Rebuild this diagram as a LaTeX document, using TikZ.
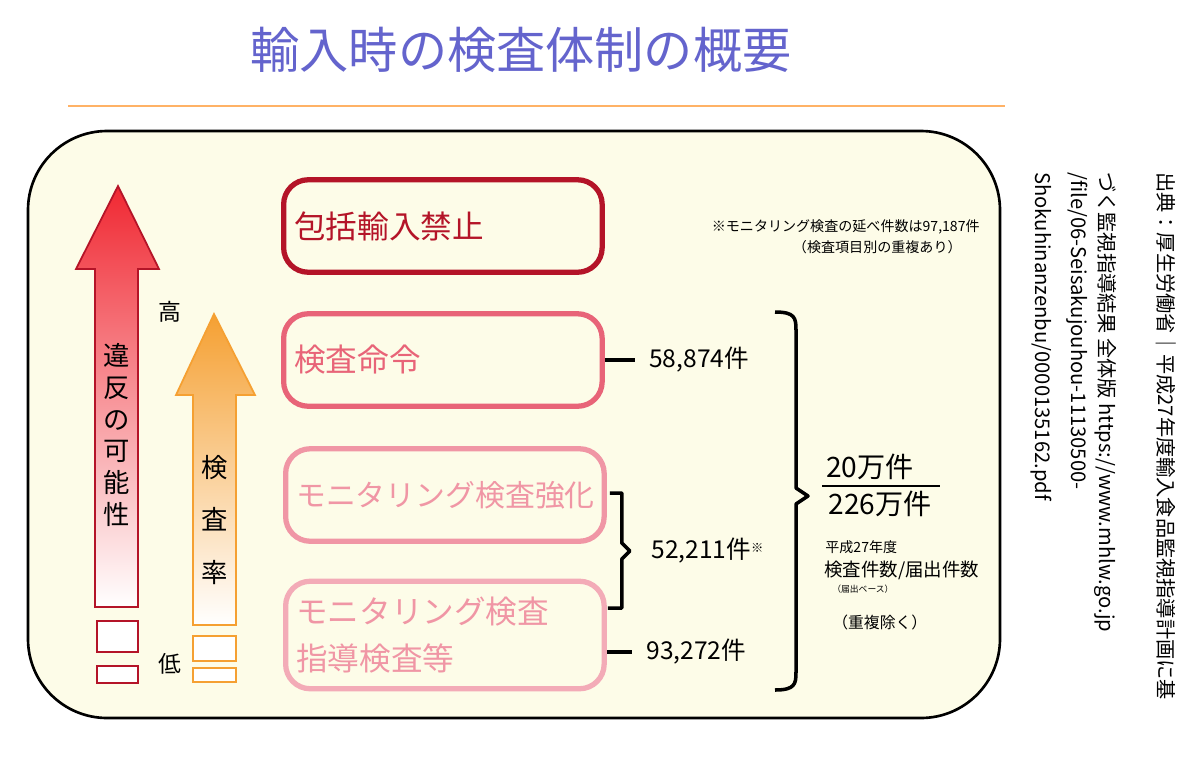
\documentclass[tikz,border=0pt]{standalone}
\usepackage{fontspec}
\setmainfont{Noto Sans CJK JP}
\definecolor{bgcream}{RGB}{253,252,232}
\definecolor{darkred}{RGB}{180,20,40}
\definecolor{midpink}{RGB}{232,100,120}
\definecolor{lightpink}{RGB}{240,150,165}
\definecolor{titleblue}{RGB}{100,100,205}
\definecolor{arrowred}{RGB}{240,40,50}
\definecolor{arroworange}{RGB}{245,160,50}
\begin{document}
\begin{tikzpicture}[x=0.02cm,y=-0.02cm,inner sep=0pt]
\tikzstyle{level}=[rounded corners=14pt, line width=3pt, anchor=west, text width=5.95cm, minimum height=1.85cm, inner sep=6pt, align=left, font=\fontsize{18}{21}\selectfont]
\tikzstyle{count}=[anchor=west, font=\fontsize{14}{16}\selectfont]
\tikzstyle{note}=[font=\fontsize{8}{10}\selectfont]
\tikzstyle{side}=[rotate=-90, anchor=north west, font=\fontsize{11.5}{14}\selectfont]
\tikzstyle{brace}=[line width=2pt, black, line join=round]
\useasboundingbox (0,0) rectangle (1200,758);
\fill[white] (0,0) rectangle (1200,758);
% title and rule
\node[font=\fontsize{28}{32}\selectfont, text=titleblue] (title) at (521,50) {輸入時の検査体制の概要};
\draw[orange!60, line width=1.5pt] (68,106) -- (1005,106);
% panel
\draw[fill=bgcream, draw=black, line width=1.5pt, rounded corners=45pt] (28,131) rectangle (1000,718);
% arrows
\shade[top color=arrowred, bottom color=white, draw=darkred, line width=1pt]
  (118,186) -- (159,269) -- (138,269) -- (138,607) -- (95,607) -- (95,269) -- (76,269) -- cycle;
\draw[darkred, fill=white, line width=1pt] (97,621) rectangle (138,652);
\draw[darkred, fill=white, line width=1pt] (97,666) rectangle (138,683);
\shade[top color=arroworange, bottom color=white, draw=arroworange, line width=1pt]
  (214,314) -- (255,395) -- (236,395) -- (236,625) -- (193,625) -- (193,395) -- (176,395) -- cycle;
\draw[arroworange, fill=white, line width=1pt] (193,636) rectangle (236,661);
\draw[arroworange, fill=white, line width=1pt] (193,668) rectangle (236,682);
\node[font=\fontsize{15}{18}\selectfont, align=center] (viol) at (117,435) {違\\反\\の\\可\\能\\性};
\node[font=\fontsize{15}{30}\selectfont, align=center] (rate) at (215,520) {検\\査\\率};
\node[font=\fontsize{13}{15}\selectfont] (high) at (170,312) {高};
\node[font=\fontsize{13}{15}\selectfont] (low) at (170,664) {低};
% levels
\node[level, draw=darkred, text=darkred] (ban) at (281,226) {包括輸入禁止};
\node[level, draw=midpink, text=midpink] (order) at (281,360) {検査命令};
\node[level, draw=lightpink, text=lightpink, font=\fontsize{17}{20}\selectfont] (monstr) at (283,495) {モニタリング検査強化};
\node[level, draw=lightpink!80, text=lightpink, minimum height=2.15cm, font=\fontsize{18}{27}\selectfont] (mon) at (283,635) {モニタリング検査\\指導検査等};
% counts
\draw[line width=2pt] (order.east) -- +(30,0) coordinate (c1);
\node[count] (n1) at ([xshift=8]c1) {58,874件};
\draw[brace] (monstr.east) ++(3,-2) -- ++(12,0) -- ++(0,50) -- ++(8,8) -- ++(-8,8) -- ++(0,49) -- ++(-14,0);
\coordinate (c2) at (623,551);
\node[count] (n2) at ([xshift=16]c2) {52,211件\raisebox{0.5ex}{\fontsize{7}{8}\selectfont ※}};
\draw[line width=2pt] (mon.east |- 0,652) -- (632,652) coordinate (c3);
\node[count] (n3) at ([xshift=8]c3) {93,272件};
\draw[brace] (775,312) .. controls (795,312) and (796,318) .. (796,330) -- (796,488) -- (808,496) -- (796,504) -- (796,672) .. controls (796,684) and (795,690) .. (775,690);
% totals
\node[font=\fontsize{16}{18}\selectfont] (num) at (870,467) {20万件};
\draw[line width=1.5pt] (822,486) -- (940,486);
\node[font=\fontsize{16}{18}\selectfont] (den) at (880,504) {226万件};
\node[note, anchor=west] (year) at (825,547) {平成27年度};
\node[font=\fontsize{10.5}{12}\selectfont, anchor=west] (ratio) at (824,570) {検査件数/届出件数};
\node[note, anchor=west, font=\fontsize{5}{6}\selectfont] (base) at (832,589) {（届出ベース）};
\node[note, anchor=west, font=\fontsize{9}{10}\selectfont] (dup) at (832,622) {（重複除く）};
\node[note, anchor=east] (ext) at (980,227) {※モニタリング検査の延べ件数は97,187件};
\node[note, anchor=east] (ext2) at (962,247) {（検査項目別の重複あり）};
% source
\node[side] (src1) at (1177,172) {出典：厚生労働省｜平成27年度輸入食品監視指導計画に基};
\node[side] (src2) at (1117,172) {づく監視指導結果 全体版 https://www.mhlw.go.jp};
\node[side] (src3) at (1088,172) {/file/06-Seisakujouhou-11130500-};
\node[side] (src4) at (1052,172) {Shokuhinanzenbu/0000135162.pdf};
\end{tikzpicture}
\end{document}
